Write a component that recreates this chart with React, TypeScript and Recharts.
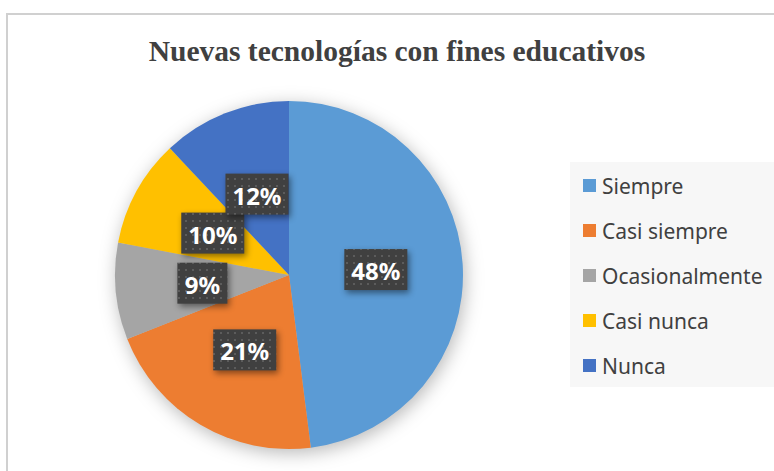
import React from "react";
import { PieChart, Pie, Cell, Legend } from "recharts";

const categories = ["Siempre", "Casi siempre", "Ocasionalmente", "Casi nunca", "Nunca"];
const percents = [48, 21, 9, 10, 12];
const colors = ["#5B9BD5", "#ED7D31", "#A5A5A5", "#FFC000", "#4472C4"];

const chartData = categories.map((name, i) => ({ name, value: percents[i] }));

const RAD = Math.PI / 180;

function renderLabel(props: any) {
  const { cx, cy, midAngle, outerRadius, index } = props;
  const r = outerRadius * 0.5;
  const x = cx + r * Math.cos(-midAngle * RAD);
  const y = cy + r * Math.sin(-midAngle * RAD);
  const text = `${percents[index]}%`;
  const w = text.length === 2 ? 50 : 63;
  const h = 41;
  return (
    <g key={`lbl-${index}`}>
      <rect
        x={x - w / 2}
        y={y - h / 2}
        width={w}
        height={h}
        fill="url(#dots)"
        style={{ filter: "drop-shadow(2px 3px 3px rgba(0,0,0,0.45))" }}
      />
      <text
        x={x}
        y={y + 1}
        textAnchor="middle"
        dominantBaseline="central"
        fill="#FFFFFF"
        fontFamily="'Noto Sans', sans-serif"
        fontWeight="bold"
        fontSize={24}
      >
        {text}
      </text>
    </g>
  );
}

function LegendBox() {
  return (
    <div
      style={{
        width: 204,
        height: 225,
        background: "#F7F7F7",
        boxSizing: "border-box",
        paddingTop: 1,
        paddingLeft: 13,
      }}
    >
      {categories.map((name, i) => (
        <div
          key={name}
          style={{ display: "flex", alignItems: "center", height: 45 }}
        >
          <span
            style={{
              width: 13,
              height: 13,
              background: colors[i],
              display: "inline-block",
              marginRight: 6,
            }}
          />
          <span
            style={{
              fontFamily: "'Noto Sans', sans-serif",
              fontSize: 21,
              color: "#404040",
            }}
          >
            {name}
          </span>
        </div>
      ))}
    </div>
  );
}

export default function App() {
  return (
    <div
      style={{
        position: "absolute",
        left: 0,
        top: 0,
        width: 774,
        height: 471,
        background: "#FFFFFF",
        overflow: "hidden",
      }}
    >
      <style>{`.pie-wrap .recharts-pie { filter: drop-shadow(2px 4px 9px rgba(0,0,0,0.28)); }`}</style>
      <svg width={0} height={0} style={{ position: "absolute" }}>
        <defs>
          <pattern id="dots" width={7} height={7} patternUnits="userSpaceOnUse">
            <rect width={7} height={7} fill="#404040" />
            <rect x={3} y={3} width={2} height={2} fill="#5C5C5C" />
          </pattern>
        </defs>
      </svg>
      <div
        style={{
          position: "absolute",
          left: 6,
          top: 13,
          width: 800,
          height: 500,
          border: "2px solid #D0D0D0",
        }}
      />
      <div
        style={{
          position: "absolute",
          left: 0,
          top: 31,
          width: 794,
          textAlign: "center",
          fontFamily: "'Liberation Serif', serif",
          fontWeight: "bold",
          fontSize: 29.5,
          color: "#404040",
          lineHeight: "40px",
        }}
      >
        Nuevas tecnologías con fines educativos
      </div>
      <div className="pie-wrap" style={{ position: "absolute", left: 0, top: 0 }}>
        <PieChart width={774} height={471}>
          <Pie
            data={chartData}
            dataKey="value"
            nameKey="name"
            cx={284}
            cy={270}
            outerRadius={174}
            startAngle={90}
            endAngle={-270}
            stroke="none"
            labelLine={false}
            label={renderLabel}
            isAnimationActive={false}
          >
            {chartData.map((d, i) => (
              <Cell key={d.name} fill={colors[i]} />
            ))}
          </Pie>
          <Legend
            content={() => <LegendBox />}
            wrapperStyle={{ left: 570, top: 162, width: 204, height: 225 }}
          />
        </PieChart>
      </div>
    </div>
  );
}
